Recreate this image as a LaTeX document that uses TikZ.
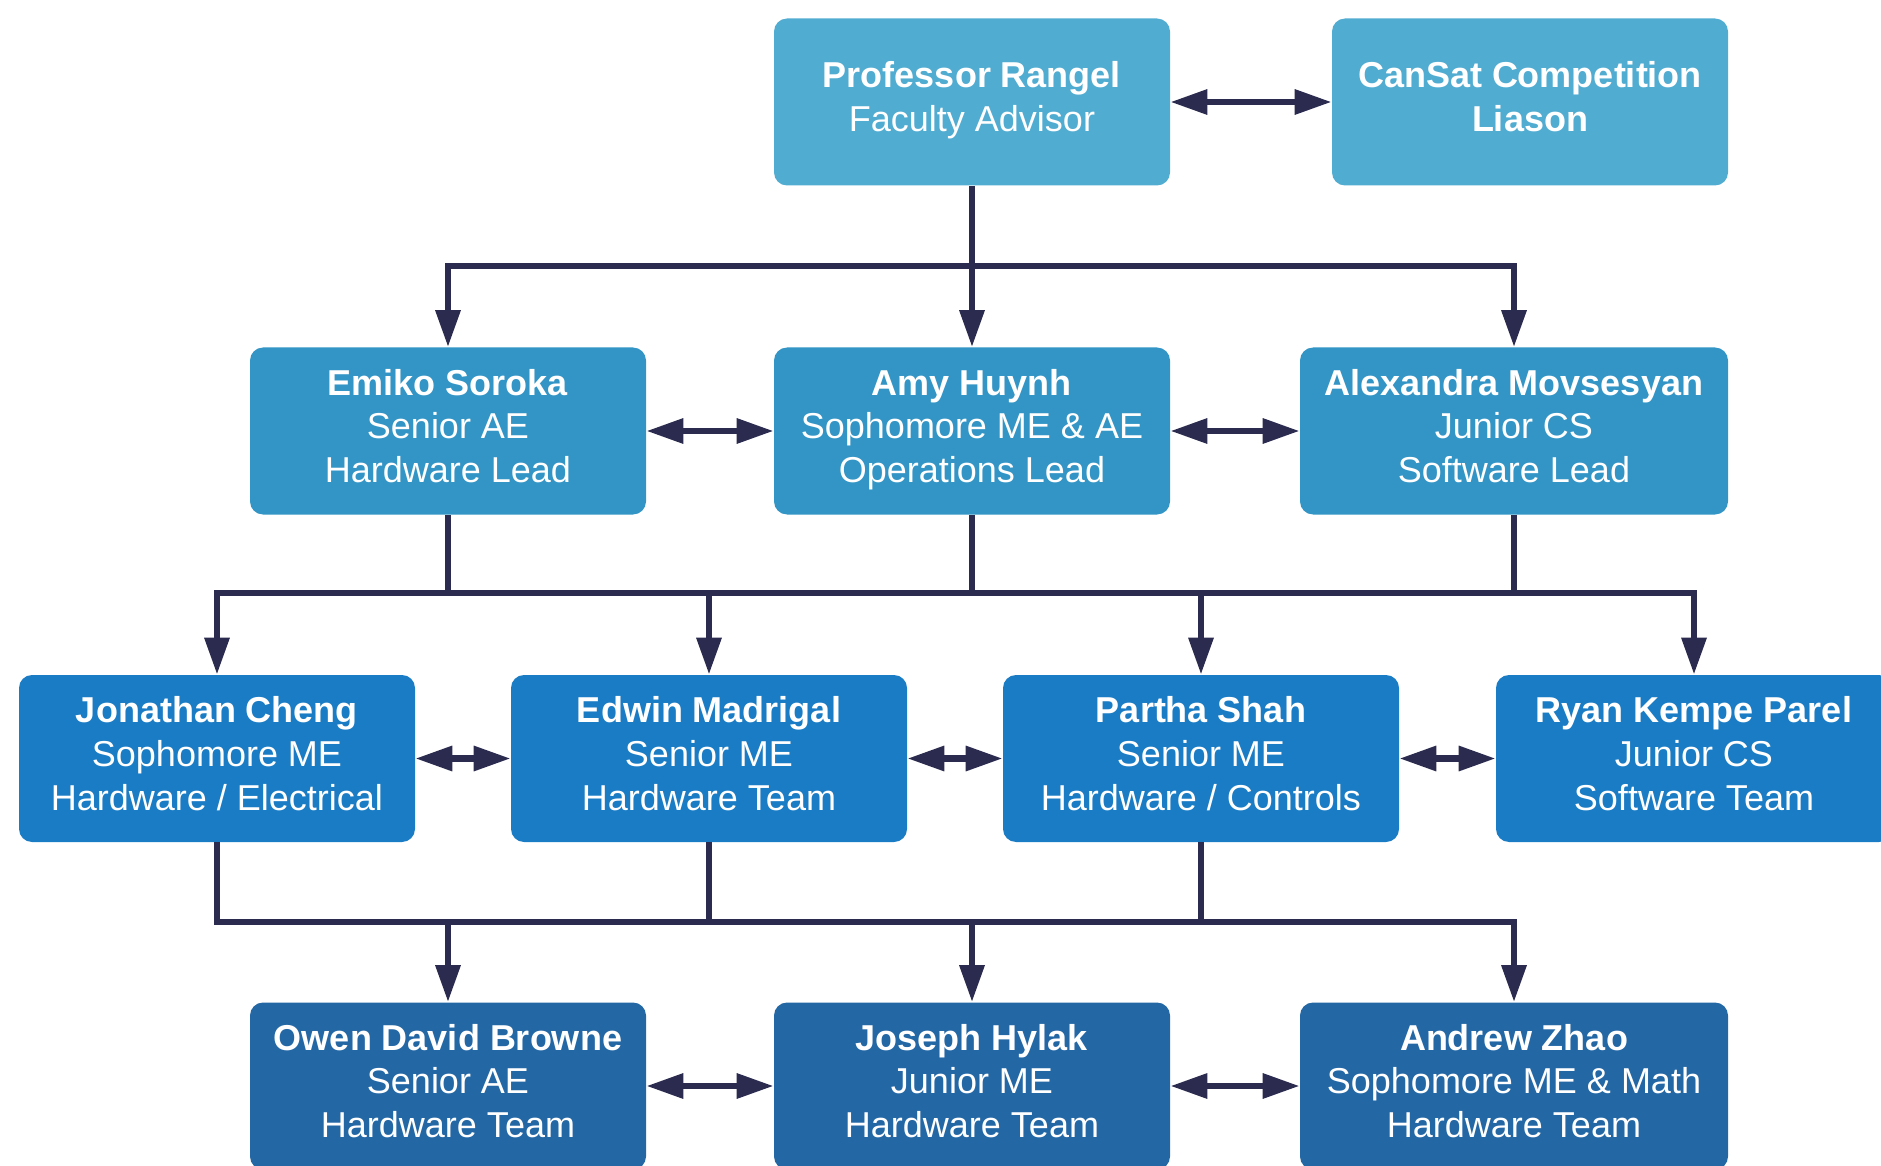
\documentclass[tikz,border=0pt]{standalone}
\usepackage{fontspec}
\setmainfont{Liberation Sans}
\usetikzlibrary{arrows.meta}
\definecolor{cA}{HTML}{51ACD1}
\definecolor{cB}{HTML}{3395C5}
\definecolor{cC}{HTML}{1A7CC4}
\definecolor{cD}{HTML}{2367A5}
\definecolor{ln}{HTML}{2A2B4E}
\begin{document}
\begin{tikzpicture}[x=0.5pt,y=-0.5pt,
  box/.style={rounded corners=6.5pt, minimum width=198pt, minimum height=83.5pt,
    text=white, align=center, font=\fontsize{18}{21.9}\selectfont, inner sep=0pt,
    text depth=5.2pt},
  wide/.style={minimum width=214pt},
  link/.style={line width=3.2pt, draw=ln},
  tipend/.style={-{Triangle[length=18.5pt,width=12pt]}},
  both/.style={{Triangle[length=18.5pt,width=12pt]}-{Triangle[length=18.5pt,width=12pt]}}]
\useasboundingbox (0,0) rectangle (1881,1166);
% row 1
\node[box,fill=cA] (prof) at (972,102) {\textbf{Professor Rangel}\\Faculty Advisor};
\node[box,fill=cA] (cansat) at (1530,102) {\textbf{CanSat Competition}\\\textbf{Liason}};
% row 2
\node[box,fill=cB] (emiko) at (448,431) {\textbf{Emiko Soroka}\\Senior AE\\Hardware Lead};
\node[box,fill=cB] (amy) at (972,431) {\textbf{Amy Huynh}\\Sophomore ME \& AE\\Operations Lead};
\node[box,wide,fill=cB] (alex) at (1514,431) {\textbf{Alexandra Movsesyan}\\Junior CS\\Software Lead};
% row 3
\node[box,fill=cC] (jon) at (217,758.5) {\textbf{Jonathan Cheng}\\Sophomore ME\\Hardware / Electrical};
\node[box,fill=cC] (edwin) at (709,758.5) {\textbf{Edwin Madrigal}\\Senior ME\\Hardware Team};
\node[box,fill=cC] (partha) at (1201,758.5) {\textbf{Partha Shah}\\Senior ME\\Hardware / Controls};
\node[box,fill=cC] (ryan) at (1694,758.5) {\textbf{Ryan Kempe Parel}\\Junior CS\\Software Team};
% row 4
\node[box,fill=cD] (owen) at (448,1086) {\textbf{Owen David Browne}\\Senior AE\\Hardware Team};
\node[box,fill=cD] (joseph) at (972,1086) {\textbf{Joseph Hylak}\\Junior ME\\Hardware Team};
\node[box,wide,fill=cD] (andrew) at (1514,1086) {\textbf{Andrew Zhao}\\Sophomore ME \& Math\\Hardware Team};
% horizontal links
\draw[link,both] (prof.east) -- (cansat.west);
\draw[link,both] (emiko.east) -- (amy.west);
\draw[link,both] (amy.east) -- (alex.west);
\draw[link,both] (jon.east) -- (edwin.west);
\draw[link,both] (edwin.east) -- (partha.west);
\draw[link,both] (partha.east) -- (ryan.west);
\draw[link,both] (owen.east) -- (joseph.west);
\draw[link,both] (joseph.east) -- (andrew.west);
% tree level 1
\coordinate (j1) at (972,266);
\draw[link] (prof.south) -- (j1);
\draw[link,tipend] (j1) -| (emiko.north);
\draw[link,tipend] (j1) -- (amy.north);
\draw[link,tipend] (j1) -| (alex.north);
% tree level 2
\coordinate (j2) at (972,593);
\draw[link] (emiko.south) |- (j2);
\draw[link] (amy.south) -- (j2);
\draw[link] (alex.south) |- (j2);
\draw[link,tipend] (j2) -| (jon.north);
\draw[link,tipend] (j2) -| (edwin.north);
\draw[link,tipend] (j2) -| (partha.north);
\draw[link,tipend] (j2) -| (ryan.north);
% tree level 3
\coordinate (j3) at (972,922);
\draw[link] (jon.south) |- (j3);
\draw[link] (edwin.south) |- (j3);
\draw[link] (partha.south) |- (j3);
\draw[link,tipend] (j3) -| (owen.north);
\draw[link,tipend] (j3) -- (joseph.north);
\draw[link,tipend] (j3) -| (andrew.north);
\end{tikzpicture}
\end{document}
